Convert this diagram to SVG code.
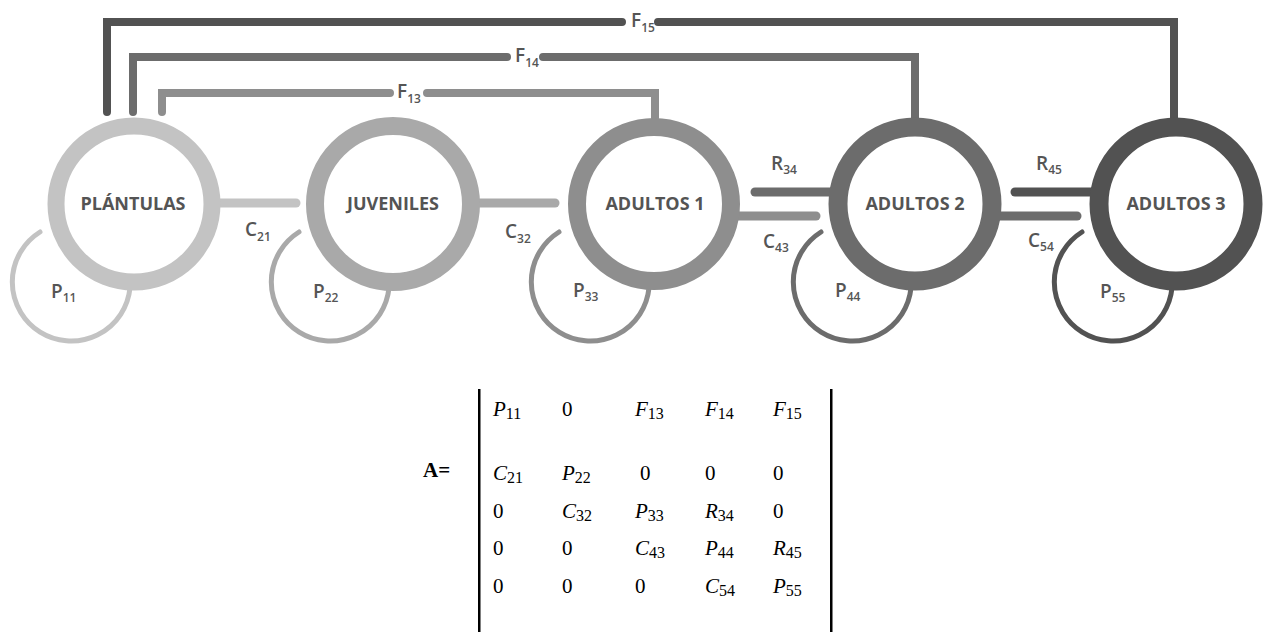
<svg xmlns="http://www.w3.org/2000/svg" width="1265" height="637" viewBox="0 0 1265 637">
<style>
.ring{fill:none}
.loop{fill:none;stroke-width:5;stroke-linecap:round}
.bar{fill:none;stroke-width:9;stroke-linecap:round}
.fl{fill:none;stroke-width:8;stroke-linecap:round;stroke-linejoin:miter}
.nl{font-family:'Open Sans','Liberation Sans',sans-serif;font-weight:700;font-size:18px;fill:#545454;text-anchor:middle}
.el{font-family:'Open Sans','Liberation Sans',sans-serif;font-weight:600;font-size:19px;fill:#555}
.el .s{font-size:12px}
.m{font-family:'Liberation Serif','Times New Roman',serif;font-size:21px;fill:#000}
.m .i{font-style:italic}
.m .s{font-size:16px}
.c1{stroke:#c3c3c3}.c2{stroke:#a9a9a9}.c3{stroke:#8e8e8e}.c4{stroke:#6c6c6c}.c5{stroke:#525252}
</style>
<rect width="1265" height="637" fill="#fff"/>
<g id="connectors">
  <path class="fl c5" d="M1174,118 V22 H658 M622,22 H107 V112"/>
  <path class="fl c4" d="M915,118 V57 H543 M507,57 H133 V112"/>
  <path class="fl c3" d="M655,118 V93 H427 M390,93 H162 V112"/>
  <path class="bar c1" d="M215,203 H296"/>
  <path class="bar c2" d="M476,203 H555"/>
  <path class="bar c3" d="M736,216 H816"/>
  <path class="bar c4" d="M835,192 H755"/>
  <path class="bar c4" d="M996,216 H1077"/>
  <path class="bar c5" d="M1095,192 H1015"/>
  <path class="loop c1" d="M40,232 A59,59 0 1 0 130,288"/>
  <path class="loop c2" d="M299,232 A59,59 0 1 0 389,288"/>
  <path class="loop c3" d="M559,232 A59,59 0 1 0 649,288"/>
  <path class="loop c4" d="M821,232 A59,59 0 1 0 911,288"/>
  <path class="loop c5" d="M1082,232 A59,59 0 1 0 1172,288"/>
  <text class="el" x="631" y="27">F<tspan class="s" dx="0" dy="5">15</tspan></text>
  <text class="el" x="515" y="62">F<tspan class="s" dx="0" dy="5">14</tspan></text>
  <text class="el" x="397" y="98">F<tspan class="s" dx="0" dy="5">13</tspan></text>
  <text class="el" x="245" y="236">C<tspan class="s" dx="0" dy="5">21</tspan></text>
  <text class="el" x="505" y="238">C<tspan class="s" dx="0" dy="5">32</tspan></text>
  <text class="el" x="763" y="248">C<tspan class="s" dx="0" dy="4">43</tspan></text>
  <text class="el" x="1028" y="247">C<tspan class="s" dx="0" dy="4">54</tspan></text>
  <text class="el" x="771" y="170">R<tspan class="s" dx="0" dy="4">34</tspan></text>
  <text class="el" x="1036" y="170">R<tspan class="s" dx="0" dy="4">45</tspan></text>
  <text class="el" x="51" y="298">P<tspan class="s" dx="0" dy="4">11</tspan></text>
  <text class="el" x="313" y="298">P<tspan class="s" dx="0" dy="4">22</tspan></text>
  <text class="el" x="573" y="297">P<tspan class="s" dx="0" dy="4">33</tspan></text>
  <text class="el" x="835" y="297">P<tspan class="s" dx="0" dy="4">44</tspan></text>
  <text class="el" x="1100" y="298">P<tspan class="s" dx="0" dy="4">55</tspan></text>
</g>
<g id="plantulas">
  <circle class="ring c1" cx="134" cy="204" r="78" stroke-width="17"/>
  <text class="nl" x="133" y="210">PLÁNTULAS</text>
</g>
<g id="juveniles">
  <circle class="ring c2" cx="393" cy="204" r="78" stroke-width="18"/>
  <text class="nl" x="393" y="210">JUVENILES</text>
</g>
<g id="adultos1">
  <circle class="ring c3" cx="654" cy="204" r="77" stroke-width="18"/>
  <text class="nl" x="655" y="210">ADULTOS 1</text>
</g>
<g id="adultos2">
  <circle class="ring c4" cx="915" cy="204" r="77" stroke-width="19"/>
  <text class="nl" x="915" y="210">ADULTOS 2</text>
</g>
<g id="adultos3">
  <circle class="ring c5" cx="1176" cy="204" r="77" stroke-width="19"/>
  <text class="nl" x="1176" y="210">ADULTOS 3</text>
</g>
<g id="matrix" class="m">
  <text x="423" y="477" font-weight="700">A=</text>
  <rect x="478" y="389" width="2.5" height="243" fill="#000"/>
  <rect x="830" y="389" width="2.5" height="243" fill="#000"/>
  <text x="493" y="416"><tspan class="i">P</tspan><tspan class="s" dy="3">11</tspan></text>
  <text x="562" y="416">0</text>
  <text x="635" y="416"><tspan class="i">F</tspan><tspan class="s" dy="3">13</tspan></text>
  <text x="705" y="416"><tspan class="i">F</tspan><tspan class="s" dy="3">14</tspan></text>
  <text x="773" y="416"><tspan class="i">F</tspan><tspan class="s" dy="3">15</tspan></text>
  <text x="493" y="480"><tspan class="i">C</tspan><tspan class="s" dy="3">21</tspan></text>
  <text x="562" y="480"><tspan class="i">P</tspan><tspan class="s" dy="3">22</tspan></text>
  <text x="640" y="480">0</text>
  <text x="705" y="480">0</text>
  <text x="773" y="480">0</text>
  <text x="493" y="518">0</text>
  <text x="562" y="518"><tspan class="i">C</tspan><tspan class="s" dy="3">32</tspan></text>
  <text x="635" y="518"><tspan class="i">P</tspan><tspan class="s" dy="3">33</tspan></text>
  <text x="705" y="518"><tspan class="i">R</tspan><tspan class="s" dy="3">34</tspan></text>
  <text x="773" y="518">0</text>
  <text x="493" y="555">0</text>
  <text x="562" y="555">0</text>
  <text x="635" y="555"><tspan class="i">C</tspan><tspan class="s" dy="3">43</tspan></text>
  <text x="705" y="555"><tspan class="i">P</tspan><tspan class="s" dy="3">44</tspan></text>
  <text x="773" y="555"><tspan class="i">R</tspan><tspan class="s" dy="3">45</tspan></text>
  <text x="493" y="593">0</text>
  <text x="562" y="593">0</text>
  <text x="635" y="593">0</text>
  <text x="705" y="593"><tspan class="i">C</tspan><tspan class="s" dy="3">54</tspan></text>
  <text x="773" y="593"><tspan class="i">P</tspan><tspan class="s" dy="3">55</tspan></text>
</g>
</svg>
